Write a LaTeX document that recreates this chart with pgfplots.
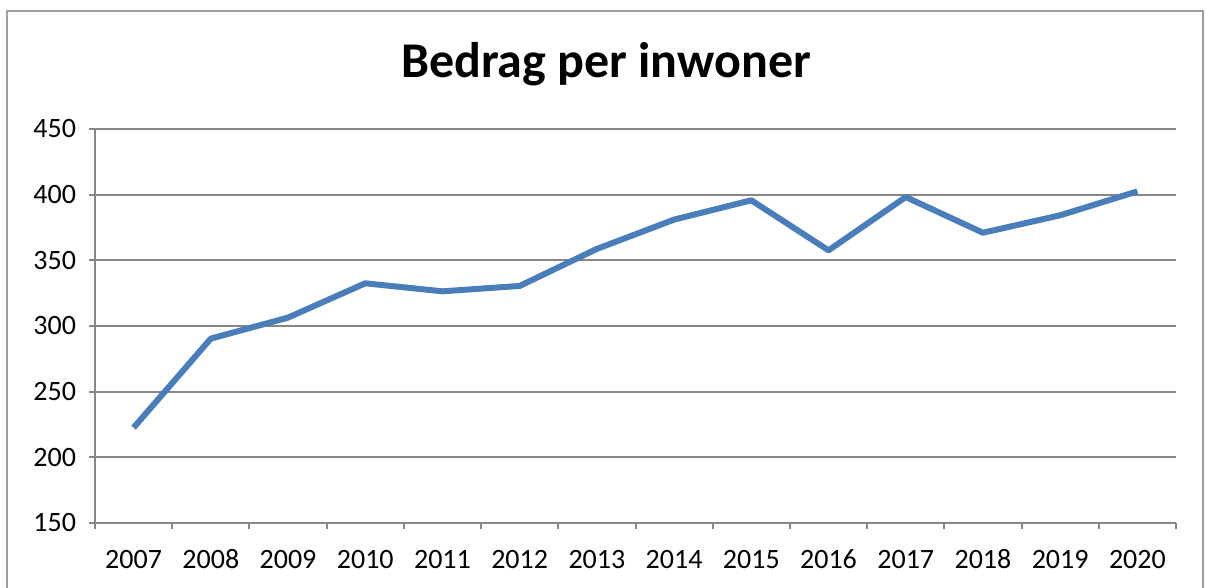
\documentclass[border=0pt]{standalone}
\usepackage{pgfplots}
\pgfplotsset{compat=1.18}
\usepackage{fontspec}
\setmainfont{Carlito}
\definecolor{linecol}{HTML}{4A7EBB}
\definecolor{gridcol}{HTML}{878787}
\begin{document}
\begin{tikzpicture}
\useasboundingbox (0,0) rectangle (603pt,294pt);
\draw[gridcol!80, line width=1.2pt] (3.5pt,0pt) -- (3.5pt,288.5pt) -- (601.5pt,288.5pt) -- (601.5pt,0pt);
\node[anchor=base, font=\fontsize{25pt}{29pt}\selectfont\bfseries] at (303pt,255pt) {Bedrag per inwoner};
\begin{axis}[
  at={(47.5pt,32.5pt)}, anchor=south west,
  scale only axis, width=540.5pt, height=197pt,
  xmin=-0.5, xmax=13.5, ymin=150, ymax=450,
  axis x line*=bottom, axis y line*=left,
  axis line style={gridcol, line width=1pt},
  xtick={0,...,13},
  xticklabels={2007,2008,2009,2010,2011,2012,2013,2014,2015,2016,2017,2018,2019,2020},
  major x tick style={draw=none},
  minor xtick={-0.5,0.5,...,13.5},
  minor x tick style={gridcol, line width=1pt},
  minor tick length=3pt,
  ytick={150,200,...,450},
  major y tick style={gridcol, line width=1pt},
  major tick length=3pt,
  tick align=outside,
  ymajorgrids, major grid style={gridcol, line width=1pt},
  ticklabel style={font=\fontsize{14pt}{16pt}\selectfont},
  /pgf/number format/assume math mode=true,
  yticklabel style={xshift=-3pt},
  xticklabel style={anchor=north, text height=10pt, text depth=0pt, yshift=-6pt},
  clip=false,
]
\addplot[linecol, line width=3pt, line join=round] coordinates {
(0,222.6) (1,290.4) (2,306.4) (3,332.5) (4,326.4) (5,330.5) (6,358.7)
(7,381) (8,395.7) (9,357.6) (10,398.2) (11,371) (12,384.3) (13,402.5)
};
\end{axis}
\end{tikzpicture}
\end{document}
